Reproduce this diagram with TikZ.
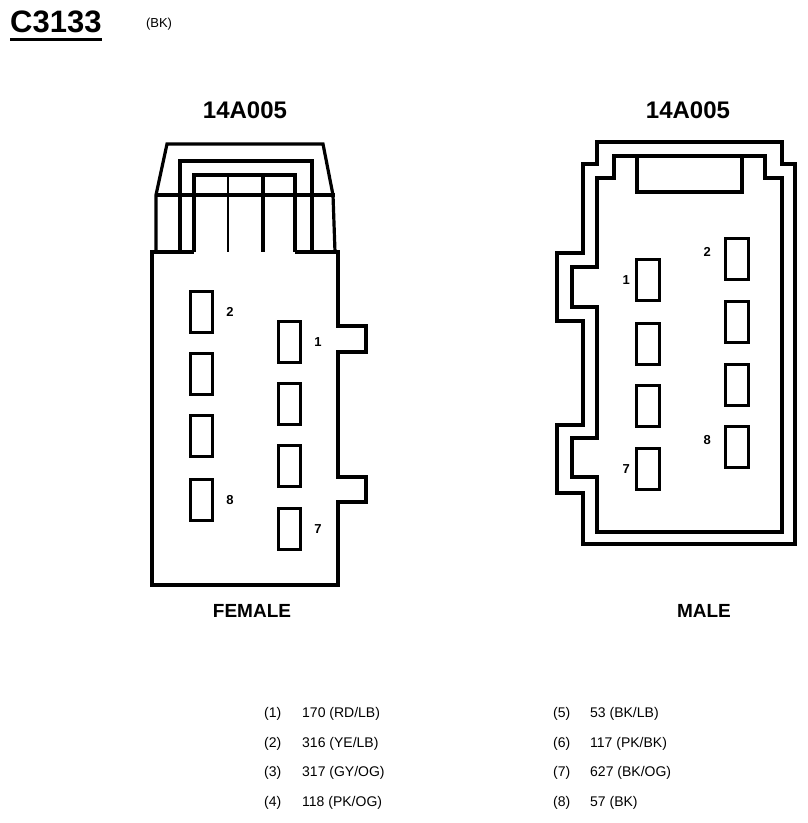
\documentclass[tikz,border=0pt]{standalone}
\usepackage{fontspec}
\setmainfont{Liberation Sans}
\usetikzlibrary{positioning}
\tikzset{
  wall/.style={ draw, line width=3.2pt, line join=miter }
}
\tikzset{
  cav/.style={ draw, line width=3.2pt, rectangle, inner sep=0pt }
}
\tikzset{
  pinno/.style={ font=\bfseries\fontsize{13}{13}\selectfont, inner sep=0pt }
}
\tikzset{
  title/.style={ font=\bfseries\fontsize{24}{24}\selectfont, inner sep=0pt }
}
\tikzset{
  wire/.style={ font=\fontsize{14}{14}\selectfont, inner sep=0pt, anchor=west }
}
\begin{document}
\begin{tikzpicture}[x=1pt, y=-1pt]
      \useasboundingbox (0,0) rectangle (807,823);

      % heading
      \node[font=\bfseries\fontsize{31}{31}\selectfont, inner sep=0pt, anchor=west] (conn) at (10,22) {C3133};
      \draw[line width=3.2pt] ([yshift=-6pt]conn.south west) -- ([yshift=-6pt]conn.south east);
      \node[font=\fontsize{13}{13}\selectfont, inner sep=0pt] (col) at (159,24) {(BK)};

      \node[title] (hf) at (245,110) {14A005};
      \node[title] (hm) at (688,110) {14A005};
      \node[font=\bfseries\fontsize{19}{19}\selectfont, inner sep=0pt] (fem) at (252,611) {FEMALE};
      \node[font=\bfseries\fontsize{19}{19}\selectfont, inner sep=0pt] (mal) at (704,611) {MALE};

      % female body
      \draw[wall] (295,252) -- (338,252) -- (338,326) -- (366,326) -- (366,352)
        -- (338,352) -- (338,477) -- (366,477) -- (366,502) -- (338,502) -- (338,585) -- (152,585)
        -- (152,252) -- (194,252);
      \draw[wall] (156,252) -- (156,195) -- (167,144) -- (323,144) -- (333,195) -- (335,252);
      \draw[wall] (156,195) -- (335,195);
      \draw[wall] (180,252) -- (180,161) -- (312,161) -- (312,252);
      \draw[wall] (194,252) -- (194,175) -- (295,175) -- (295,252);
      \draw[line width=1.4pt] (228,175) -- (228,252);
      \draw[wall] (263,175) -- (263,252);

      \foreach \y/\n in {290/f2, 352/f4, 414/f6, 478/f8}
        \node[cav, minimum width=22pt, minimum height=41pt, anchor=north west] (\n) at (189,\y) {};
      \foreach \y/\n in {320/f1, 382/f3, 444/f5, 507/f7}
        \node[cav, minimum width=22pt, minimum height=41pt, anchor=north west] (\n) at (277,\y) {};
      \node[pinno, right=12pt of f2] {2};
      \node[pinno, right=12pt of f8] {8};
      \node[pinno, right=12pt of f1] {1};
      \node[pinno, right=12pt of f7] {7};

      % male body
      \draw[wall] (597,142) -- (782,142) -- (782,164) -- (795,164) -- (795,544) -- (583,544) -- (583,493)
        -- (557,493) -- (557,425) -- (583,425) -- (583,321) -- (557,321) -- (557,253) -- (583,253)
        -- (583,164) -- (597,164) -- cycle;
      \draw[wall] (614,156) -- (765,156) -- (765,178) -- (782,178) -- (782,532) -- (597,532) -- (597,477)
        -- (572,477) -- (572,438) -- (597,438) -- (597,307) -- (572,307) -- (572,267) -- (597,267)
        -- (597,178) -- (614,178) -- cycle;
      \draw[wall] (637,156) rectangle (742,192);

      \foreach \y/\n in {258/m1, 322/m3, 384/m5, 447/m7}
        \node[cav, minimum width=23pt, minimum height=41pt, anchor=north west] (\n) at (635,\y) {};
      \foreach \y/\n in {237/m2, 300/m4, 363/m6, 425/m8}
        \node[cav, minimum width=23pt, minimum height=41pt, anchor=north west] (\n) at (724,\y) {};
      \node[pinno, left=5pt of m1] {1};
      \node[pinno, left=5pt of m7] {7};
      \node[pinno, left=13pt of m2.north west, anchor=north east, yshift=-10pt] {2};
      \node[pinno, left=13pt of m8.north west, anchor=north east, yshift=-10pt] {8};

      % wire table
      \foreach \i/\w/\y in {1/{170 (RD/LB)}/714, 2/{316 (YE/LB)}/744, 3/{317 (GY/OG)}/773, 4/{118 (PK/OG)}/803} {
        \node[wire] (n\i) at (264,\y) {(\i)};
        \node[wire] (w\i) at (302,\y) {\w};
      }
      \foreach \i/\w/\y in {5/{53 (BK/LB)}/714, 6/{117 (PK/BK)}/744, 7/{627 (BK/OG)}/773, 8/{57 (BK)}/803} {
        \node[wire] (n\i) at (553,\y) {(\i)};
        \node[wire] (w\i) at (590,\y) {\w};
      }
    \end{tikzpicture}
\end{document}
